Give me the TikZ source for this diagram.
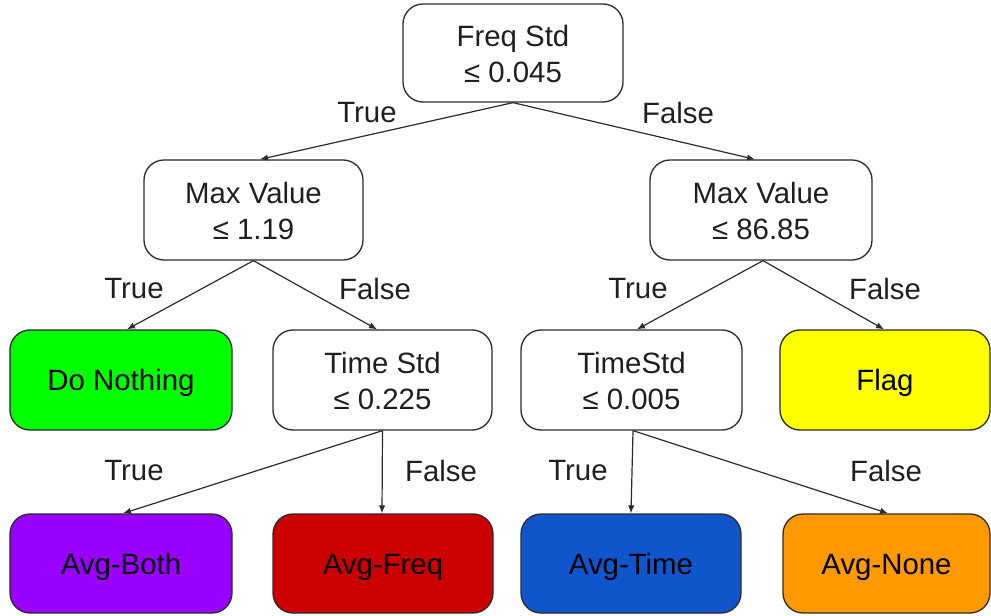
\documentclass[tikz,border=0pt]{standalone}
\usepackage{fontspec}
\setmainfont{Liberation Sans}
\usetikzlibrary{arrows.meta}
\definecolor{leafgreen}{HTML}{00FF00}
\definecolor{leafpurple}{HTML}{9900FF}
\definecolor{leafred}{HTML}{CC0000}
\definecolor{leafblue}{HTML}{1155CC}
\definecolor{leaforange}{HTML}{FF9900}
\definecolor{leafyellow}{HTML}{FFFF00}
\definecolor{edgegray}{HTML}{2B2B2B}
% two centred lines, 36bp apart, drawn a little lower than the box centre
\newcommand{\testlines}[2]{\raisebox{-4.5bp}[\height][\depth]{\begin{tabular}{@{}c@{}}#1\\#2\end{tabular}}}
\begin{document}
\begin{tikzpicture}[x=1bp,y=-1bp,
  box/.style={draw=edgegray, line width=1.3bp, rounded corners=20bp, fill=white,
    minimum height=100bp, align=center, inner sep=0pt, text=black!88,
    font=\fontsize{29.5}{36}\selectfont},
  leaf/.style={box, text=black, text height=21bp, text depth=0bp},
  edgelabel/.style={font=\fontsize{29.5}{36}\selectfont, text=black!88, inner sep=0pt},
  link/.style={draw=edgegray, line width=1.2bp, -{Latex[length=8bp,width=6.5bp]}}
]
\useasboundingbox (0,0) rectangle (991,616);

% decision nodes
\node[box, minimum width=220bp, minimum height=98bp] (root) at (513,53) {\testlines{Freq Std}{≤ 0.045}};
\node[box, minimum width=219bp] (mL) at (253.5,210) {\testlines{Max Value}{≤ 1.19}};
\node[box, minimum width=222bp] (mR) at (761,210) {\testlines{Max Value}{≤ 86.85}};
\node[box, minimum width=219bp] (tL) at (382.5,380) {\testlines{Time Std}{≤ 0.225}};
\node[box, minimum width=221bp] (tR) at (631.5,380) {\testlines{TimeStd}{≤ 0.005}};

% outcomes
\node[leaf, fill=leafgreen, minimum width=222bp] (dn) at (121,380) {Do Nothing};
\node[leaf, fill=leafyellow, minimum width=210bp] (fl) at (885,380) {Flag};
\node[leaf, fill=leafpurple, minimum width=222bp, minimum height=99bp] (ab) at (121,563.5) {Avg-Both};
\node[leaf, fill=leafred, minimum width=220bp, minimum height=99bp] (af) at (383,563.5) {Avg-Freq};
\node[leaf, fill=leafblue, minimum width=220bp, minimum height=99bp] (at) at (631,563.5) {Avg-Time};
\node[leaf, fill=leaforange, minimum width=207bp, minimum height=99bp] (an) at (886.5,563.5) {Avg-None};

% branches
\draw[link] (root.south) -- ([xshift=6.5bp]mL.north);
\draw[link] (root.south) -- ([xshift=-6bp]mR.north);
\draw[link] (mL.south) -- ([xshift=6bp]dn.north);
\draw[link] (mL.south) -- ([xshift=-5.5bp]tL.north);
\draw[link] ([xshift=2bp]mR.south) -- ([xshift=5.5bp]tR.north);
\draw[link] ([xshift=2bp]mR.south) -- ([xshift=-1bp]fl.north);
\draw[link] (tL.south) -- ([xshift=2bp]ab.north);
\draw[link] (tL.south) -- ([xshift=-1bp]af.north);
\draw[link] ([xshift=1.5bp]tR.south) -- (at.north);
\draw[link] ([xshift=1.5bp]tR.south) -- ([xshift=1.5bp]an.north);

% branch labels
\node[edgelabel] (l1) at (367,113) {True};
\node[edgelabel] (l2) at (678,113) {False};
\node[edgelabel] (l3) at (134,289) {True};
\node[edgelabel] (l4) at (375,289) {False};
\node[edgelabel] (l5) at (638,289) {True};
\node[edgelabel] (l6) at (885,289) {False};
\node[edgelabel] (l7) at (134,471) {True};
\node[edgelabel] (l8) at (441,471) {False};
\node[edgelabel] (l9) at (578,471) {True};
\node[edgelabel] (l10) at (886,471) {False};
\end{tikzpicture}
\end{document}
